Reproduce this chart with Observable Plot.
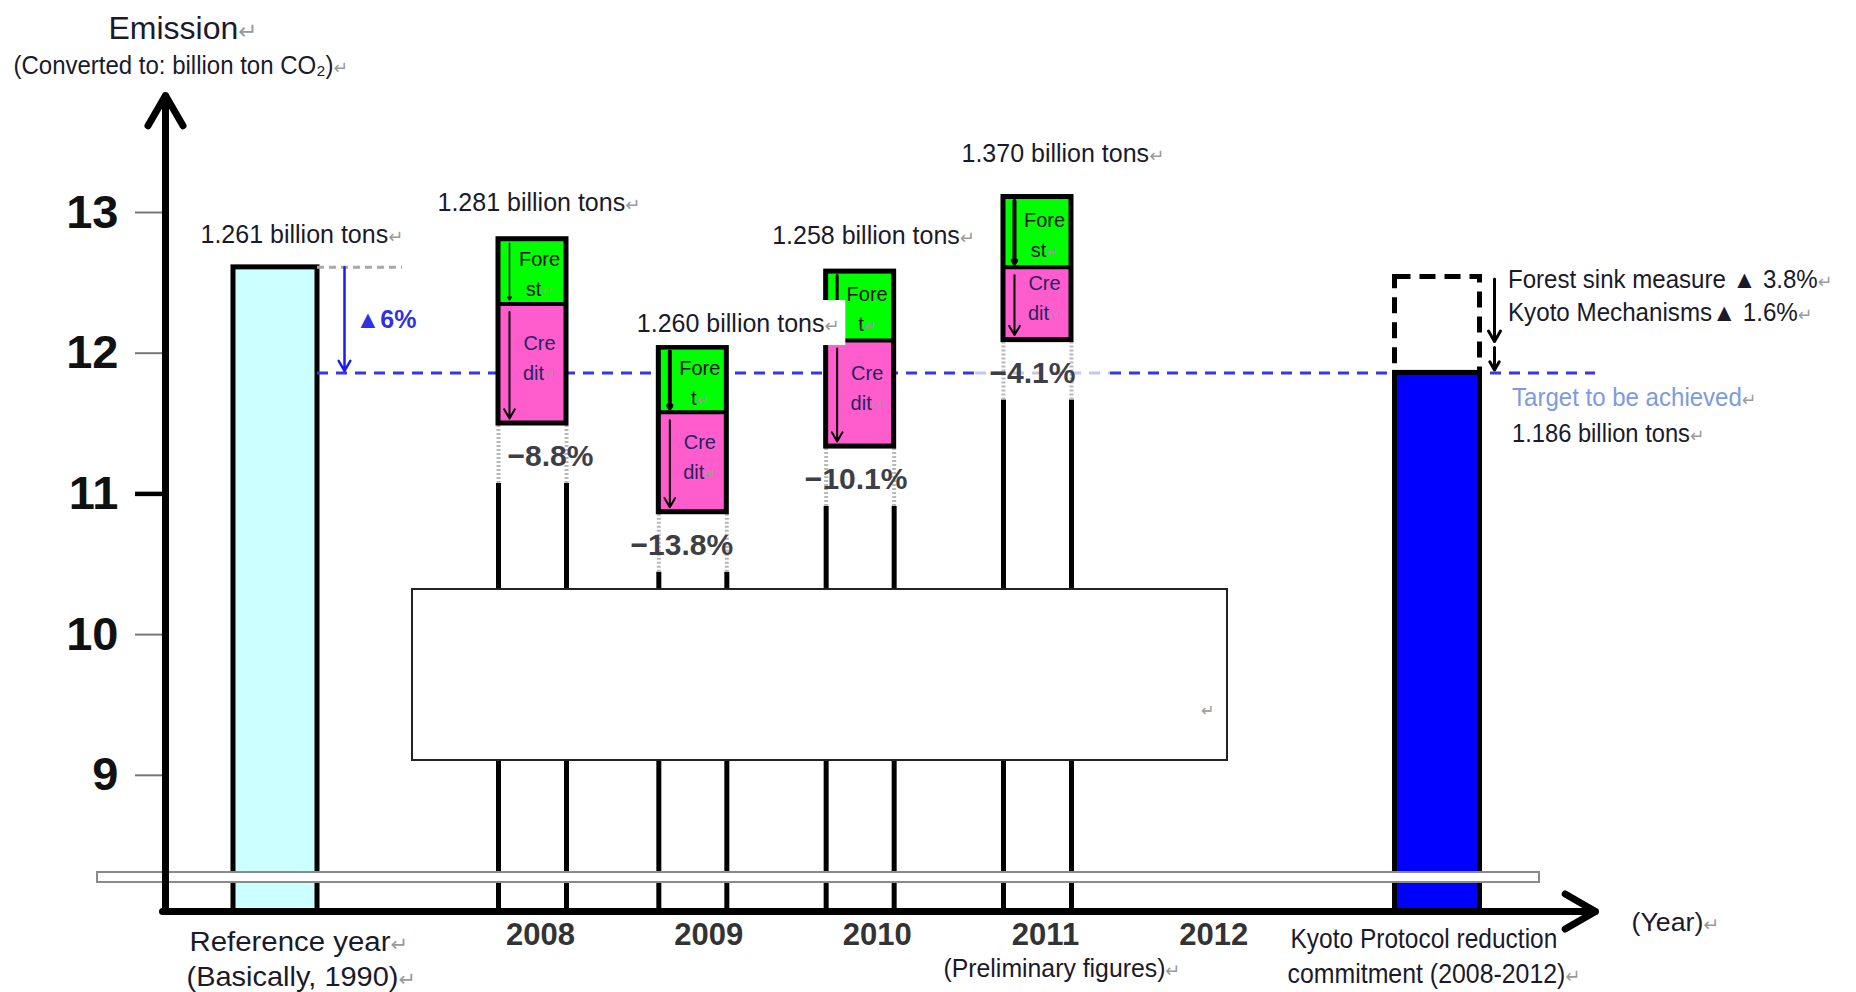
<!DOCTYPE html>
<html>
<head>
<meta charset="utf-8">
<script src="https://cdn.jsdelivr.net/npm/d3@7"></script>
<script src="https://cdn.jsdelivr.net/npm/@observablehq/plot@0.6"></script>
<style>
  html, body { margin: 0; padding: 0; background: #fff; overflow: hidden; }
  #chart svg text { font-family: "Liberation Sans", Arial, sans-serif; }
</style>
</head>
<body>
<div id="chart"></div>
<script>
// ---- Data (emissions in units of 100 million t CO2; 13 = 1.3 billion t) ----
const baseYearEmission = 12.61;
const baseYearLabel = "1.261 billion tons";
const years = [2008, 2009, 2010, 2011];
const emissions = [12.81, 12.04, 12.58, 13.11];
const forestSink = [0.46, 0.46, 0.49, 0.50];
const changeVsBase = [-8.8, -13.8, -10.1, -4.1];
const emissionLabels = ["1.281 billion tons", "1.260 billion tons", "1.258 billion tons", "1.370 billion tons"];
const forestText = ["Fore\nst↵", "Fore\nt↵", "Fore\nt↵", "Fore\nst↵"];
const creditText = "Cre\ndit↵";
const reductionTarget = 6;          // % below the base year
const targetEmission = 11.86;
const targetLabel = "1.186 billion tons";
const forestMeasure = 3.8;          // % of base year
const kyotoMechanisms = 1.6;        // % of base year
const yTicks = [9, 10, 11, 12, 13];
const axisYears = [2008, 2009, 2010, 2011, 2012];

// ---- Layout ----
const W = 1856, H = 992;
const pxPerYear = 168.33, pxPerUnit = 140.7;
const axisLeft = 165, axisBottom = 911, tipX = 1595, tipY = 95, y13 = 212;
const yMin = 13 - (axisBottom - y13) / pxPerUnit;
const yMax = 13 + (y13 - tipY) / pxPerUnit;
const xMin = 2008 - (532 - axisLeft) / pxPerYear;
const xMax = 2008 + (tipX - 532) / pxPerYear;
const px = p => p / pxPerYear;       // horizontal pixel offset in year units
const pv = p => p / pxPerUnit;       // vertical pixel offset in value units
const xAt = p => xMin + (p - axisLeft) / pxPerYear;
const yAt = p => 13 - (p - y13) / pxPerUnit;
const refX = 2008 - px(257), kyotoX = 2008 + px(905);
const halfRef = px(42), halfBox = px(34), halfKyoto = px(42.5);
const gapV = pv(60);

// per-column placement (pixels)
const colShift = [0, -8, -9, 0];
const labelDx = [-95, -56, -88, -76];
const labelDy = [36, 24, 36, 43];
const pctDx = [18, -11, -4, -5];
const greenArrowWidth = [1.5, 4, 3, 4];

const cols = years.map((year, i) => ({
  year,
  i,
  x: year + px(colShift[i]),
  top: emissions[i],
  split: emissions[i] - forestSink[i],
  bottom: baseYearEmission * (1 + changeVsBase[i] / 100),
  change: changeVsBase[i]
}));
const sides = cols.flatMap(c => [c.x - halfBox, c.x + halfBox].map(e => ({...c, edge: e})));

const kyotoTop = targetEmission + baseYearEmission * (forestMeasure + kyotoMechanisms) / 100;
const forestStep = targetEmission + baseYearEmission * kyotoMechanisms / 100;

const ink = "#1a1a2a";
const blue = "#3535ee";

const chart = Plot.plot({
  width: W,
  height: H,
  marginLeft: axisLeft,
  marginRight: W - tipX,
  marginTop: tipY,
  marginBottom: H - axisBottom,
  x: {domain: [xMin, xMax], axis: null},
  y: {domain: [yMin, yMax], axis: null},
  style: {background: "#fff", color: ink, overflow: "visible"},
  marks: [
    // base-year bar
    Plot.rect([0], {x1: refX - halfRef, x2: refX + halfRef, y1: yMin, y2: baseYearEmission, fill: "#ccffff", stroke: "#000", strokeWidth: 5}),

    // 6% reduction target line
    Plot.ruleY([targetEmission], {x1: refX + halfRef, x2: 2011 - px(62), stroke: blue, strokeWidth: 3, strokeDasharray: "11,8"}),
    Plot.ruleY([targetEmission], {x1: 2011 - px(62), x2: 2011 + px(73), stroke: "#c6c6f4", strokeWidth: 3, strokeDasharray: "11,8"}),
    Plot.ruleY([targetEmission], {x1: 2011 + px(73), x2: xMax, stroke: blue, strokeWidth: 3, strokeDasharray: "11,8"}),

    // yearly columns: sides, then forest / credit boxes
    Plot.ruleX(sides, {x: "edge", y1: yMin, y2: d => d.bottom - gapV, stroke: "#000", strokeWidth: 5}),
    Plot.ruleX(sides, {x: "edge", y1: d => d.bottom - gapV, y2: "bottom", stroke: "#b8b8b8", strokeWidth: 4, strokeDasharray: "2,2"}),
    Plot.rect(cols, {x1: d => d.x - halfBox, x2: d => d.x + halfBox, y1: "split", y2: "top", fill: "#00ff00"}),
    Plot.rect(cols, {x1: d => d.x - halfBox, x2: d => d.x + halfBox, y1: "bottom", y2: "split", fill: "#ff5ccd"}),
    Plot.ruleY(cols, {y: "split", x1: d => d.x - halfBox, x2: d => d.x + halfBox, stroke: "#000", strokeWidth: 4}),
    Plot.rect(cols, {x1: d => d.x - halfBox, x2: d => d.x + halfBox, y1: "bottom", y2: "top", fill: "none", stroke: "#000", strokeWidth: 5}),
    Plot.arrow(cols, {x1: "x", x2: "x", y1: "top", y2: "split", dx: -23, stroke: "#000",
      strokeWidth: d => greenArrowWidth[d.i], headLength: 5, insetStart: 4, insetEnd: 4}),
    Plot.arrow(cols, {x1: "x", x2: "x", y1: "split", y2: "bottom", dx: -23, stroke: "#000",
      strokeWidth: 2, headLength: 8, insetStart: 8, insetEnd: 5}),
    Plot.text(cols, {x: "x", y: d => (d.top + d.split) / 2, text: d => forestText[d.i], dx: 7, fontSize: 20, lineHeight: 1.5, fill: "#111"}),
    Plot.text(cols, {x: "x", y: d => (d.split + d.bottom) / 2, text: () => creditText, dx: 7, dy: -8, fontSize: 20, lineHeight: 1.5, fill: "#24245e"}),
    Plot.text(cols, {x: d => d.x + px(pctDx[d.i]), y: "bottom", dy: 33, text: d => `−${Math.abs(d.change)}%`,
      fontSize: 30, fontWeight: "bold", fill: "#3e3e46"}),

    // base-year annotations
    Plot.ruleY([baseYearEmission], {x1: refX + halfRef, x2: refX + halfRef + px(85), stroke: "#a8a8a8", strokeWidth: 3, strokeDasharray: "7,5"}),
    Plot.arrow([0], {x1: refX + halfRef + px(27), x2: refX + halfRef + px(27), y1: baseYearEmission, y2: targetEmission,
      stroke: "#1c1cf0", strokeWidth: 2.5, headLength: 7, insetEnd: 2}),
    Plot.text([`▲${reductionTarget}%`], {x: refX + halfRef + px(38), y: (baseYearEmission + targetEmission) / 2, text: d => d,
      textAnchor: "start", fontSize: 25, fontWeight: "bold", fill: "#3030e6"}),

    // Kyoto commitment column
    Plot.rect([0], {x1: kyotoX - halfKyoto, x2: kyotoX + halfKyoto, y1: targetEmission, y2: kyotoTop, fill: "none",
      stroke: "#000", strokeWidth: 5, strokeDasharray: "16,9"}),
    Plot.rect([0], {x1: kyotoX - halfKyoto, x2: kyotoX + halfKyoto, y1: yMin, y2: targetEmission, fill: "#0000ff", stroke: "#000", strokeWidth: 5}),
    Plot.arrow([0], {x1: kyotoX + px(57), x2: kyotoX + px(57), y1: kyotoTop, y2: forestStep, stroke: "#000", strokeWidth: 3, headLength: 6, insetStart: 2, insetEnd: 3}),
    Plot.arrow([0], {x1: kyotoX + px(57), x2: kyotoX + px(57), y1: forestStep, y2: targetEmission, stroke: "#000", strokeWidth: 3, headLength: 6, insetStart: 3, insetEnd: 3}),

    // axis break box and band
    Plot.rect([0], {x1: xAt(412), x2: xAt(1227), y1: yAt(760), y2: yAt(589), fill: "#fff", stroke: "#222", strokeWidth: 2}),
    Plot.text(["↵"], {x: xAt(1207), y: yAt(710), text: d => d, fontSize: 16, fill: "#999", fontFamily: "DejaVu Sans"}),
    Plot.rect([0], {x1: xAt(97), x2: xAt(1539), y1: yAt(882), y2: yAt(872), fill: "#fff", stroke: "#8a8a8a", strokeWidth: 2}),

    // axes
    Plot.axisY({ticks: yTicks, tickSize: 30, tickPadding: 17, tickFormat: d => d, fontSize: 47, fontWeight: "bold",
      stroke: "#777", strokeWidth: 2, fill: "#111", label: null}),
    Plot.axisY({ticks: [11], tickSize: 30, tickFormat: () => "", stroke: "#000", strokeWidth: 4.5, label: null}),
    Plot.arrow([0], {x1: xMin, y1: yMin, x2: xMin, y2: yMax, stroke: "#000", strokeWidth: 7, headLength: 7.5}),
    Plot.arrow([0], {x1: xMin - px(3), y1: yMin, x2: xMax, y2: yMin, stroke: "#000", strokeWidth: 7, headLength: 7.5}),

    // value labels above the columns
    Plot.text(cols, {x: d => d.x + px(labelDx[d.i]), y: d => d.top + pv(labelDy[d.i]), text: d => emissionLabels[d.i] + "↵",
      textAnchor: "start", fontSize: 25, fill: ink}),
    Plot.text([0], {x: refX - px(75), y: baseYearEmission + pv(32), text: () => baseYearLabel + "↵", textAnchor: "start", fontSize: 25, fill: ink}),

    // right-hand notes
    Plot.text([`Forest sink measure ▲ ${forestMeasure}%↵`], {x: kyotoX + halfKyoto + px(28), y: kyotoTop - pv(3), text: d => d, textAnchor: "start", fontSize: 25, fill: ink}),
    Plot.text([`Kyoto Mechanisms▲ ${kyotoMechanisms}%↵`], {x: kyotoX + halfKyoto + px(28), y: kyotoTop - pv(36), text: d => d, textAnchor: "start", fontSize: 25, fill: ink}),
    Plot.text(["Target to be achieved↵"], {x: kyotoX + halfKyoto + px(32), y: targetEmission - pv(25), text: d => d, textAnchor: "start", fontSize: 25, fill: "#7d9be0"}),
    Plot.text([targetLabel + "↵"], {x: kyotoX + halfKyoto + px(32), y: targetEmission - pv(61), text: d => d, textAnchor: "start", fontSize: 25, fill: ink}),

    // category labels under the axis
    Plot.text(axisYears, {x: d => d, y: yMin, dy: 24, dx: 8, text: d => String(d), fontSize: 31, fontWeight: "bold", fill: "#333"}),
    Plot.text(["Reference year↵"], {x: refX - px(86), y: yMin - pv(31), text: d => d, textAnchor: "start", fontSize: 27, fill: ink}),
    Plot.text(["(Basically, 1990)↵"], {x: refX - px(89), y: yMin - pv(66), text: d => d, textAnchor: "start", fontSize: 27, fill: ink}),
    Plot.text(["(Preliminary figures)↵"], {x: 2011 - px(94), y: yMin - pv(57), text: d => d, textAnchor: "start", fontSize: 26, fill: ink}),
    Plot.text(["Kyoto Protocol reduction"], {x: kyotoX - px(147), y: yMin - pv(28), text: d => d, textAnchor: "start", fontSize: 27, fill: ink}),
    Plot.text(["commitment (2008-2012)↵"], {x: kyotoX - px(150), y: yMin - pv(63), text: d => d, textAnchor: "start", fontSize: 27, fill: ink}),
    Plot.text(["(Year)↵"], {x: xMax + px(36), y: yMin - pv(11), text: d => d, textAnchor: "start", fontSize: 26, fill: ink}),

    // axis title
    Plot.text(["Emission↵"], {x: xMin - px(57), y: yMax + pv(67), text: d => d, textAnchor: "start", fontSize: 32, fill: ink}),
    Plot.text(["(Converted to: billion ton CO₂)↵"], {x: xMin - px(152), y: yMax + pv(30), text: d => d, textAnchor: "start", fontSize: 25, fill: ink})
  ]
});

document.getElementById("chart").appendChild(chart);

// Narrow text runs (target width of the words, paragraph mark excluded)
const fitWidths = new Map([
  ["(Converted to: billion ton CO₂)", 320],
  ["Forest sink measure ▲ 3.8%", 310],
  ["Kyoto Mechanisms▲ 1.6%", 290],
  ["Target to be achieved", 230],
  ["1.186 billion tons", 178],
  ["Reference year", 201],
  ["(Basically, 1990)", 212],
  ["(Preliminary figures)", 222],
  ["Kyoto Protocol reduction", 267],
  ["commitment (2008-2012)", 278],
  ["(Year)", 72]
]);
const NS = "http://www.w3.org/2000/svg";
chart.querySelectorAll("text, tspan").forEach(node => {
  if (node.querySelector("tspan")) return;
  const raw = node.textContent;
  const mark = raw.endsWith("↵") && raw.length > 1;
  const main = mark ? raw.slice(0, -1) : raw;
  const w = fitWidths.get(main);
  if (!mark && w == null) return;
  node.textContent = "";
  const t = document.createElementNS(NS, "tspan");
  t.textContent = main;
  node.appendChild(t);
  if (mark) {
    // grey paragraph mark after the run
    const r = document.createElementNS(NS, "tspan");
    r.textContent = "↵";
    r.setAttribute("fill", "#9a9a9a");
    r.setAttribute("font-size", "0.72em");
    r.setAttribute("style", "font-family: 'DejaVu Sans'; font-weight: normal");
    node.appendChild(r);
  }
  if (w && node.tagName === "text") {
    // condense the whole text horizontally around its start point
    const natural = t.getComputedTextLength();
    const sx = w / natural;
    const ax = +node.getAttribute("x") || 0;
    const prev = node.getAttribute("transform") || "";
    node.setAttribute("transform", `${prev} translate(${ax},0) scale(${sx},1) translate(${-ax},0)`.trim());
  }
});

// white panel behind the 2009 value label (covers part of the 2010 column edge)
const label2009 = [...chart.querySelectorAll("text")].find(t => t.textContent.startsWith("1.260"));
if (label2009) {
  const x = d3.scaleLinear().domain([xMin, xMax]).range([axisLeft, tipX]);
  const y = d3.scaleLinear().domain([yMin, yMax]).range([axisBottom, tipY]);
  const c = cols[1];
  const bg = document.createElementNS(NS, "rect");
  bg.setAttribute("x", x(c.x - px(59)));
  bg.setAttribute("width", 212);
  bg.setAttribute("y", y(c.top + pv(47)));
  bg.setAttribute("height", 45);
  bg.setAttribute("fill", "#fff");
  const g = label2009.closest("g");
  g.parentNode.insertBefore(bg, g);
}
</script>
</body>
</html>
